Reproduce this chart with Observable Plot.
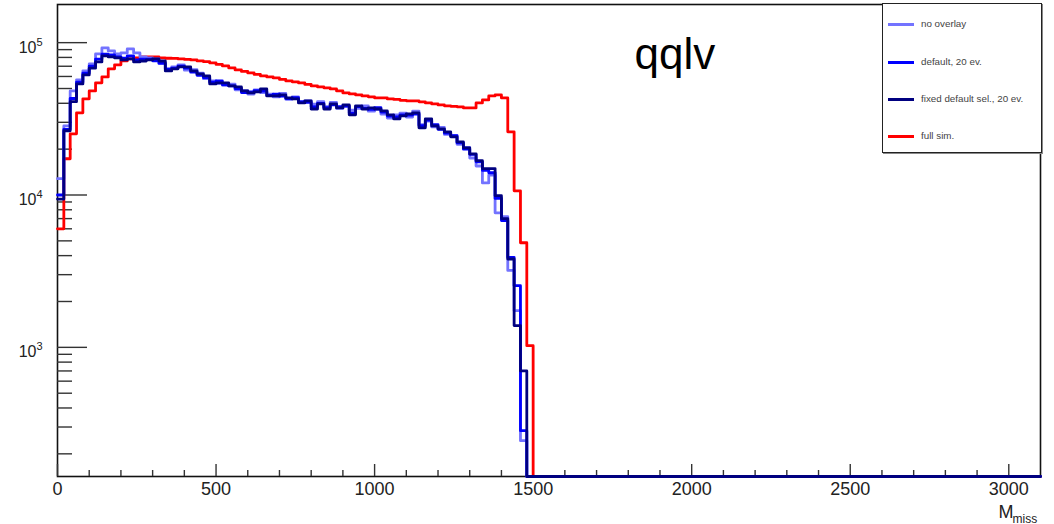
<!DOCTYPE html>
<html>
<head>
<meta charset="utf-8">
<script src="https://cdn.jsdelivr.net/npm/d3@7"></script>
<script src="https://cdn.jsdelivr.net/npm/@observablehq/plot@0.6"></script>
<style>
  html, body { margin: 0; padding: 0; background: #fff; }
  #wrap { position: relative; width: 1054px; height: 524px; font-family: "Liberation Sans", Arial, sans-serif; }
  #legend { position: absolute; left: 882px; top: 3px; width: 158px; height: 148px; border: 1px solid #222; background: #fff; box-shadow: 1px 1px 0 #888; }
  .entry { position: absolute; left: 0; height: 12px; width: 158px; }
  .entry .sw { position: absolute; left: 5px; top: 5px; width: 26px; height: 3px; }
  .entry .lb { position: absolute; left: 38px; top: 0; font-size: 9.8px; line-height: 12px; color: #444; white-space: nowrap; }
</style>
</head>
<body>
<div id="wrap"><div id="chart"></div><div id="legend"></div></div>
<script>
// ---- data (bin contents; bins of 20 starting at 0) ----
const binWidth = 20;
const xMax = 3100;
const yMin = 142, yMax = 178000;

const noOverlay = [12800,28400,48200,57000,65200,72500,84300,92300,88200,84300,
  85600,90900,85600,80600,79400,78200,73600,67300,69300,71500,
  66000,66500,63000,58000,56000,54000,52500,53500,49000,48500,
  46000,49000,47000,46000,44000,46500,42500,44000,40500,41500,
  39500,41000,38000,40500,37000,38000,36000,37000,38500,35500,
  36500,34000,32000,33500,34500,32500,35500,29000,30500,28000,
  27800,25000,24500,21500,20500,17500,15500,12000,13500,7640,
  7200,3200,1740,244,0];

const default20 = [10000,27000,43000,55000,63000,70000,78000,84000,83000,81000,
  79000,82000,77000,78000,78000,76000,73000,67000,68000,70000,
  68000,64000,61000,59000,55000,56000,53000,52000,50000,47000,
  47500,48500,48000,45000,46000,44500,43000,43500,41000,40500,
  38000,40000,37500,39000,38000,38500,34500,38000,37000,36500,
  37500,35000,33000,32500,33500,33500,34000,28500,31000,29000,
  27000,25500,24500,22000,20000,18500,16500,14500,14000,9500,
  6800,3900,2540,284,0];

const fixed20 = [9400,26400,41000,53600,61400,68000,74700,81800,80600,79400,
  77000,78200,74700,75800,77000,78200,75800,65200,67300,69300,
  69300,65200,62300,60500,53600,54400,54400,52000,51200,48200,
  46800,47500,49700,44700,44700,45400,43400,42700,40200,41500,
  36700,39600,36700,39600,37300,39000,33600,38500,36700,37300,
  36700,35700,33600,31600,33100,34100,34600,27600,31600,28400,
  27200,26000,24100,22300,20400,18600,16800,14900,14900,9900,
  7000,3800,1390,700,0];

const fullSim = [6000,17300,25200,34600,42800,48200,54500,59600,67300,71500,
  75900,78200,79400,80600,80600,80600,79400,79000,78800,78200,
  77600,77000,75900,75000,73600,72000,70300,68200,66200,64700,
  63300,61900,60500,59600,58700,57400,56100,55300,54400,53200,
  52000,51200,50500,49700,48200,46800,46100,45400,44700,44100,
  43400,43400,42700,42400,41800,41500,41500,40900,40200,39600,
  39000,38500,38200,37900,37300,37300,40200,42100,44700,45400,
  43400,26000,10650,4860,1026];

const seriesNames = ["no overlay", "default, 20 ev.", "fixed default sel., 20 ev.", "full sim."];
const seriesColors = ["#7373ff", "#0000ff", "#000080", "#ff0000"];
const seriesData = [noOverlay, default20, fixed20, fullSim];

const xMajor = [0, 500, 1000, 1500, 2000, 2500, 3000];
const xMinor = [100,200,300,400,600,700,800,900,1100,1200,1300,1400,1600,1700,1800,1900,
  2100,2200,2300,2400,2600,2700,2800,2900];
const yDecades = [1e3, 1e4, 1e5];
const yMinorTicks = [200,300,400,500,600,700,800,900,2000,3000,4000,5000,6000,7000,8000,9000,
  20000,30000,40000,50000,60000,70000,80000,90000];
const title = "qqlv";

// ---- build histogram step tables ----
function toRows(counts) {
  const rows = counts.map((v, i) => ({x: i * binWidth, v}));
  rows.push({x: counts.length * binWidth, v: 0});
  rows.push({x: xMax, v: 0});
  return rows;
}

const W = 1054, H = 524;
const mL = 57, mR = 14, mT = 4, mB = 48;
const innerW = W - mL - mR, innerH = H - mT - mB;
const yv = d => Math.max(d.v, yMin);

const drawOrder = [3, 0, 1, 2];
const lineMarks = drawOrder.map(k => Plot.line(toRows(seriesData[k]), {
  x: "x", y: yv, curve: "step-after", stroke: seriesColors[k], strokeWidth: 2.8
}));

const tickStroke = "#333";
const chart = Plot.plot({
  width: W, height: H,
  marginLeft: mL, marginRight: mR, marginTop: mT, marginBottom: mB,
  style: {fontFamily: "'Liberation Sans', Arial, sans-serif", background: "#fff"},
  x: {domain: [0, xMax], axis: null},
  y: {type: "log", domain: [yMin, yMax], axis: null},
  marks: [
    Plot.frame({stroke: "#111", strokeWidth: 1.6}),
    Plot.tickX(xMajor, {x: d => d, insetTop: innerH - 12, stroke: tickStroke, strokeWidth: 1.4}),
    Plot.tickX(xMinor, {x: d => d, insetTop: innerH - 6, stroke: tickStroke, strokeWidth: 1.4}),
    Plot.tickY(yDecades, {y: d => d, insetRight: innerW - 30, stroke: tickStroke, strokeWidth: 1.4}),
    Plot.tickY(yMinorTicks, {y: d => d, insetRight: innerW - 15, stroke: tickStroke, strokeWidth: 1.4}),
    ...lineMarks,
    Plot.text(xMajor, {x: d => d, frameAnchor: "bottom", text: d => String(d), dy: 6, lineAnchor: "top", fontSize: 18, fill: "#222"}),
    Plot.text(yDecades, {y: d => d, frameAnchor: "left", text: () => "10", dx: -21, dy: 10, textAnchor: "end", lineAnchor: "bottom", fontSize: 16, fill: "#222"}),
    Plot.text(yDecades, {y: d => d, frameAnchor: "left", text: d => String(Math.round(Math.log10(d))), dx: -21, dy: 3, textAnchor: "start", lineAnchor: "bottom", fontSize: 11, fill: "#222"}),
    Plot.text(["M"], {frameAnchor: "bottom-right", text: d => d, dx: -27, dy: 41, textAnchor: "end", lineAnchor: "bottom", fontSize: 18, fill: "#222"}),
    Plot.text(["miss"], {frameAnchor: "bottom-right", text: d => d, dx: -28, dy: 46, textAnchor: "start", lineAnchor: "bottom", fontSize: 12, fill: "#222"}),
    Plot.text([title], {frameAnchor: "top-left", text: d => d, dx: 577, dy: 64, textAnchor: "start", lineAnchor: "bottom", fontSize: 44, fill: "#000"})
  ]
});
document.getElementById("chart").appendChild(chart);

// ---- legend ----
const legend = document.getElementById("legend");
const rowTops = [14, 52, 89, 126];
seriesNames.forEach((name, k) => {
  const e = document.createElement("div");
  e.className = "entry";
  e.style.top = rowTops[k] + "px";
  const sw = document.createElement("div");
  sw.className = "sw";
  sw.style.background = seriesColors[k];
  const lb = document.createElement("div");
  lb.className = "lb";
  lb.textContent = name;
  e.appendChild(sw); e.appendChild(lb);
  legend.appendChild(e);
});
</script>
</body>
</html>
